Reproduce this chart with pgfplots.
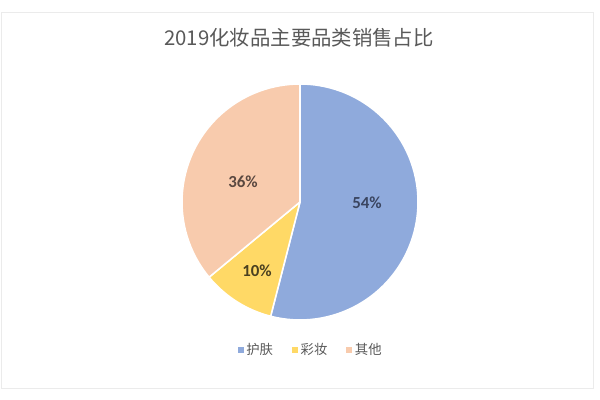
\documentclass[border=0pt]{standalone}
\usepackage{pgfplots}
\pgfplotsset{compat=1.18}
\usepackage{pgfplotstable}
\usepackage{fontspec}
\setmainfont{Carlito}
\newfontfamily\cjk{Noto Sans CJK SC}

\definecolor{pie0}{HTML}{8FAADC}
\definecolor{pie1}{HTML}{FFD966}
\definecolor{pie2}{HTML}{F8CBAD}
\definecolor{lbl0}{HTML}{3A4560}
\definecolor{lbl1}{HTML}{4A4020}
\definecolor{lbl2}{HTML}{5A4840}
\definecolor{txtgray}{HTML}{595959}
\definecolor{frame}{HTML}{EBEBEB}

% share of each category (percent) and where its label sits (pixel grid)
\pgfplotstableread{
idx value lx ly
0   54    367 197
1   10    257 129
2   36    243 218
}\piedata

\begin{document}
\begin{tikzpicture}
% start and end angle of every wedge, clockwise from the top
\def\acc{90}
\pgfplotsforeachungrouped \i in {0,1,2}{%
  \pgfplotstablegetelem{\i}{value}\of\piedata
  \pgfmathsetmacro\endang{\acc-3.6*\pgfplotsretval}%
  \expandafter\xdef\csname pieS\i\endcsname{\acc}%
  \expandafter\xdef\csname pieE\i\endcsname{\endang}%
  \expandafter\xdef\csname pieV\i\endcsname{\pgfplotsretval}%
  \pgfplotstablegetelem{\i}{lx}\of\piedata
  \expandafter\xdef\csname pieX\i\endcsname{\pgfplotsretval}%
  \pgfplotstablegetelem{\i}{ly}\of\piedata
  \expandafter\xdef\csname pieY\i\endcsname{\pgfplotsretval}%
  \global\let\acc\endang
}
\begin{axis}[
    width=15cm, height=10cm, scale only axis,
    xmin=0, xmax=600, ymin=0, ymax=400,
    axis lines=none,
    clip=false,
    legend columns=3,
    legend style={at={(axis cs:311,50)}, anchor=center, draw=none,
        fill=none, font=\cjk\fontsize{9.5}{11}\selectfont,
        text=txtgray, inner sep=0pt,
        /tikz/every even column/.style={column sep=0.4cm}},
    legend image code/.code={%
        \fill[#1, draw=none] (0cm,-0.075cm) rectangle (0.15cm,0.075cm);},
]
\path (axis cs:0,0) rectangle (axis cs:600,400);
\draw[frame, line width=0.6pt] (axis cs:1,388) rectangle (axis cs:593,12);

\pgfplotsinvokeforeach{0,1,2}{
  \fill[pie#1, draw=white, line width=1.1pt, line join=round]
    (axis cs:300,198) -- ++(\csname pieS#1\endcsname:2.95cm)
    arc[start angle=\csname pieS#1\endcsname,
        end angle=\csname pieE#1\endcsname, radius=2.95cm] -- cycle;
  \node[lbl#1, font=\fontsize{12}{14}\selectfont\bfseries]
    at (axis cs:\csname pieX#1\endcsname,\csname pieY#1\endcsname)
    {\csname pieV#1\endcsname\%};
}

\node[txtgray, font=\cjk\fontsize{14.5}{17}\selectfont]
  at (axis cs:299,362) {2019化妆品主要品类销售占比};

\addlegendimage{fill=pie0}
\addlegendentry{护肤}
\addlegendimage{fill=pie1}
\addlegendentry{彩妆}
\addlegendimage{fill=pie2}
\addlegendentry{其他}
\end{axis}
\end{tikzpicture}
\end{document}
